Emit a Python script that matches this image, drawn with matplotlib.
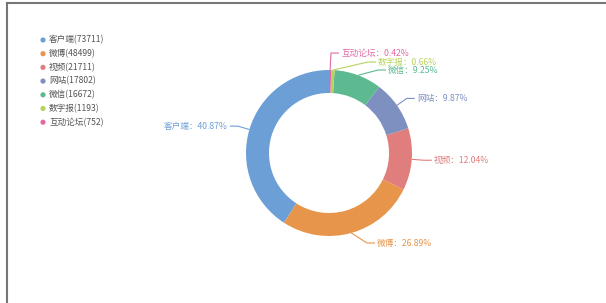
import matplotlib
matplotlib.use("Agg")
import matplotlib.pyplot as plt
import numpy as np
from matplotlib.lines import Line2D

plt.rcParams['font.family'] = ['Noto Sans CJK SC', 'DejaVu Sans']

categories = ["客户端", "微博", "视频", "网站", "微信", "数字报", "互动论坛"]
values = [73711, 48499, 21711, 17802, 16672, 1193, 752]
colors = ["#6c9fd6", "#e8954c", "#e07d7d", "#7d90c0", "#5db98f", "#b6d45c", "#e26aa4"]

W, H = 606, 303
fig = plt.figure(figsize=(W / 100, H / 100), dpi=100)
ax = fig.add_axes([0, 0, 1, 1])

cx, cy_px, R, width = 329, 153, 83, 23
cy = H - cy_px
wedges, _ = ax.pie(values, colors=colors, startangle=90, counterclock=True,
                   radius=R, center=(cx, cy),
                   wedgeprops=dict(width=width, edgecolor='none'))
ax.set_xlim(0, W)
ax.set_ylim(0, H)
ax.set_aspect('equal')
ax.axis('off')

# percentages with largest-remainder rounding (sums to 100.00)
total = sum(values)
raw = np.array(values) / total * 10000
fl = np.floor(raw).astype(int)
rem = 10000 - fl.sum()
order = np.argsort(-(raw - fl))
for k in order[:rem]:
    fl[k] += 1
pcts = fl / 100

elbow_override = {"互动论坛": (331, 53), "数字报": (368, 62), "微信": (378, 70), "微博": (367, 243)}
len1, len2 = 12, 8
for w, cat, pct, col in zip(wedges, categories, pcts, colors):
    th = np.deg2rad((w.theta1 + w.theta2) / 2)
    x0, y0 = cx + R * np.cos(th), cy + R * np.sin(th)
    if cat in elbow_override:
        ex, ey = elbow_override[cat]
        ey = H - ey
    else:
        ex, ey = cx + (R + len1) * np.cos(th), cy + (R + len1) * np.sin(th)
    side = 1 if np.cos(th) >= 0 else -1
    x2 = ex + side * len2
    ax.plot([x0, ex, x2], [y0, ey, ey], color=col, lw=0.8, solid_capstyle='butt')
    ax.text(x2 + side * 2, ey, f"{cat}：{pct:.2f}%", color=col, fontsize=6.2,
            ha='left' if side > 0 else 'right', va='center')

# legend
lx, ly0, dy = 43, 40, 13.7
for i, (cat, val, col) in enumerate(zip(categories, values, colors)):
    y = H - (ly0 + i * dy)
    ax.scatter([lx], [y], s=14, color=col, edgecolors='none')
    ax.text(lx + 6, y, f"{cat}({val})", fontsize=6.2, color='#555555', va='center', ha='left')

# border lines (top and left)
fig.add_artist(Line2D([7 / W, 1], [1 - 2.5 / H, 1 - 2.5 / H], transform=fig.transFigure, color='#777777', lw=1.5))
fig.add_artist(Line2D([7 / W, 7 / W], [0, 1 - 2.5 / H], transform=fig.transFigure, color='#777777', lw=1.5))

fig.savefig("out.png", dpi=100)
